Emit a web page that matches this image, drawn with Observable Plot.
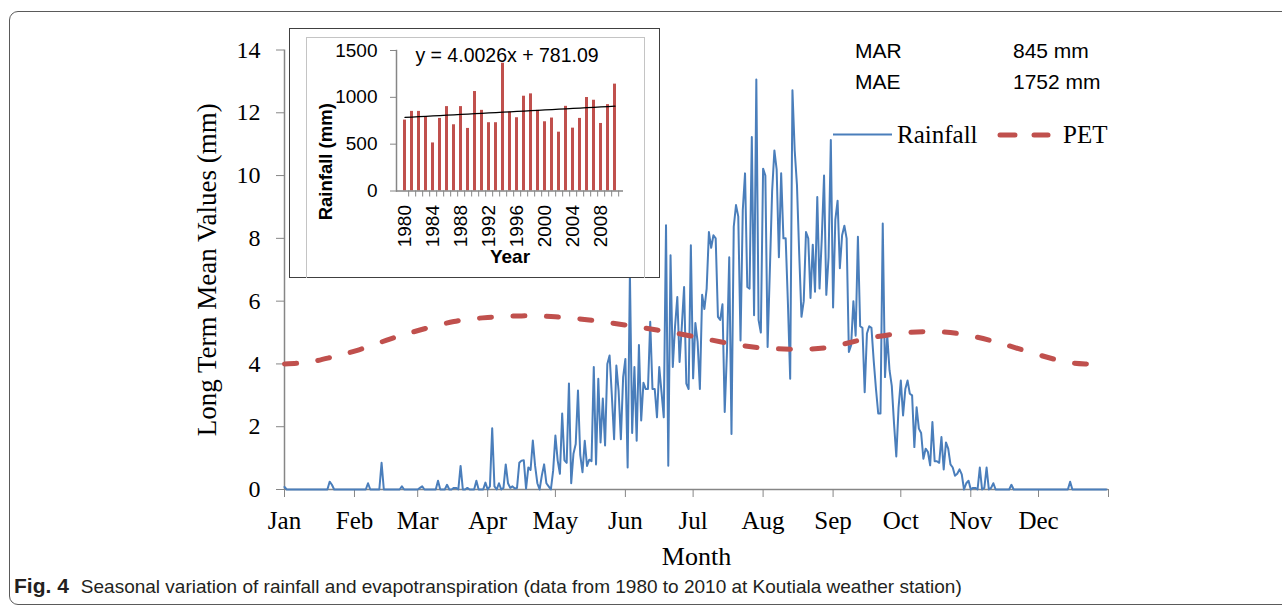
<!DOCTYPE html>
<html><head><meta charset="utf-8">
<script src="https://cdn.jsdelivr.net/npm/d3@7"></script>
<script src="https://cdn.jsdelivr.net/npm/@observablehq/plot@0.6"></script>
<style>
html,body{margin:0;padding:0;background:#fff;width:1282px;height:607px;overflow:hidden;}
#frame{position:absolute;left:9px;top:11px;width:1300px;height:592px;border:1px solid #5a5a5a;border-radius:9px;}
#main{position:absolute;left:0;top:0;}
#inset{position:absolute;left:289px;top:28px;width:369px;height:248px;border:1.5px solid #404040;background:#fff;}
#insetInner{position:absolute;left:15.5px;top:7.5px;width:337px;height:240px;border:1px solid #c4c4c4;border-bottom:none;}
#insetPlot{position:absolute;left:0;top:0;}
#overlay{position:absolute;left:0;top:0;}
#caption{position:absolute;left:14px;top:574px;font:19px 'Liberation Sans',Arial,sans-serif;color:#231f20;white-space:nowrap;}
#caption b{font-weight:bold;margin-right:12px;font-size:21px;}
</style></head><body>
<div id="frame"></div>
<div id="main"></div>
<div id="inset"><div id="insetInner"></div><div id="insetPlot"></div></div>
<svg id="overlay" width="1282" height="570"></svg>
<div id="caption"></div>
<script>
// ---------- main chart data: daily long-term mean rainfall (mm), by month ----------
const monthNames = ["Jan","Feb","Mar","Apr","May","Jun","Jul","Aug","Sep","Oct","Nov","Dec"];
const monthStarts = [0,31,59,90,120,151,181,212,243,273,304,334,365];
const yTicks = [0,2,4,6,8,10,12,14];

const rainJan = [0.08,0,0,0,0,0,0,0,0,0,0,0,0,0,0,0,0,0,0,0,0.25,0.15,0,0,0,0,0,0,0,0,0];
const rainFeb = [0,0,0,0,0,0,0.2,0,0,0,0,0,0.85,0,0,0,0,0,0,0,0,0.1,0,0,0,0,0,0];
const rainMar = [0,0.05,0.1,0,0,0,0,0,0,0.28,0,0,0,0.15,0,0,0.05,0.05,0,0.75,0,0,0.05,0,0,0,0.28,0,0,0,0.22];
const rainApr = [0,0.1,1.95,0.1,0,0.2,0,0.05,0.8,0.2,0.05,0.1,0.03,0.05,0.85,0.92,0.93,0.03,0.7,0.62,1.56,0.76,0.2,0,0.45,0.8,0.2,0.1,0,0.6];
const rainMay = [1.72,0.93,0.5,2.42,0.93,0.85,3.38,0.2,1.14,1.45,3.15,1.1,0.55,1.55,0.75,0.95,0.9,3.9,0.8,3.53,1.5,2.9,1.4,4.0,4.27,3.0,1.6,3.95,3.14,1.6,3.58];
const rainJun = [4.16,0.7,6.9,1.8,3.9,1.55,4.6,2.2,3.4,3.2,3.2,5.34,3.2,3.2,2.3,3.9,3.1,2.3,8.42,0.76,7.46,3.9,5.2,6.13,4.06,5.2,6.45,3.37,3.2,7.78];
const rainJul = [3.54,5.3,4.7,3.2,6.2,5.75,6.4,8.2,7.7,8.1,8.0,5.5,5.4,5.9,2.47,4.4,7.4,1.77,8.37,9.06,8.7,4.75,8.9,10.07,6.45,6.4,11.23,5.55,13.06,5.4,5.0];
const rainAug = [10.22,10.0,4.54,7.0,9.5,10.8,10.2,7.4,10.07,8.0,8.0,5.92,3.53,12.72,10.8,9.7,7.5,5.5,6.0,8.2,8.0,6.1,7.8,6.3,9.32,6.4,8.0,10.0,6.2,7.4,11.13];
const rainSep = [5.8,8.6,9.2,7.05,8.1,8.4,8.0,4.38,4.6,6.0,4.9,8.05,5.2,5.15,3.1,4.97,5.2,5.15,4.1,3.2,2.42,2.42,8.47,3.58,4.9,3.8,3.3,2.1,1.05,2.6];
const rainOct = [3.47,2.36,3.2,3.47,3.05,3.0,1.35,2.62,1.94,1.8,0.98,1.3,1.2,0.77,2.15,0.9,0.9,0.85,1.67,0.64,1.5,1.3,0.8,0.7,0.44,0.5,0.64,0.48,0,0.2,0.28];
const rainNov = [0,0.05,0.05,0,0.7,0,0.05,0.7,0,0.05,0.2,0,0,0,0,0,0,0,0.15,0,0,0,0,0,0,0,0,0,0,0];
const rainDec = [0,0,0,0,0,0,0,0,0,0,0,0,0,0,0.25,0,0,0,0,0,0,0,0,0,0,0,0,0,0,0,0];

// PET (mm/day) read at selected days of the year
const petDays   = [0,10,20,33,47,60,75,90,105,120,135,150,165,180,195,210,225,240,255,270,285,300,315,330,345,355,364];
const petValues = [4.0,4.05,4.2,4.45,4.8,5.08,5.35,5.48,5.53,5.5,5.4,5.25,5.08,4.89,4.68,4.52,4.47,4.52,4.76,4.95,5.03,4.95,4.7,4.38,4.08,4.0,3.97];

// ---------- inset data: annual rainfall 1980-2010 ----------
const years = d3.range(1980, 2011);
const annualRain = [757,850,850,793,513,775,901,707,901,668,1062,861,729,729,1364,843,782,1012,1037,861,739,779,628,904,671,775,998,969,721,922,1141];
const trendSlope = 4.0026, trendIntercept = 781.09;
const yearLabels = [1980,1984,1988,1992,1996,2000,2004,2008];
const insetYTicks = [0,500,1000,1500];

// ---------- annotation text ----------
const statsLabels = ["MAR","MAE"];
const statsValues = ["845 mm","1752 mm"];

// ---------- build main chart ----------
const rainfall = [...rainJan,...rainFeb,...rainMar,...rainApr,...rainMay,...rainJun,...rainJul,...rainAug,...rainSep,...rainOct,...rainNov,...rainDec];
const rainData = rainfall.map((v,i)=>({day:i, v}));
const petData = petDays.map((d,i)=>({day:d, v:petValues[i]}));
const serif = "'Liberation Serif','Times New Roman',serif";
const sans = "'Liberation Sans',Arial,sans-serif";
const axisGray = "#868686";

const main = Plot.plot({
  width:1282, height:570,
  marginLeft:284, marginRight:174, marginTop:49.5, marginBottom:81,
  x:{domain:[0,365]},
  y:{domain:[0,14]},
  style:{fontFamily:serif, fontSize:"24px", color:"#000", background:"transparent", overflow:"visible"},
  marks:[
    Plot.ruleX([0],{stroke:axisGray, strokeWidth:1.5}),
    Plot.ruleY([0],{stroke:axisGray, strokeWidth:1.5}),
    Plot.axisY(yTicks,{tickSize:8, tickPadding:16, stroke:axisGray, fontSize:24, label:null}),
    Plot.axisX(monthStarts,{tickSize:8, tickPadding:14, stroke:axisGray, fontSize:25, label:null,
      tickFormat:d=>monthNames[monthStarts.indexOf(d)] ?? ""}),
    Plot.line(rainData,{x:"day", y:"v", stroke:"#4A7EBB", strokeWidth:2}),
    Plot.line(petData,{x:"day", y:"v", curve:"natural", stroke:"#C0504D", strokeWidth:5,
      strokeDasharray:"12 21.5", strokeLinecap:"round"}),
    Plot.text(["Month"],{frameAnchor:"bottom", lineAnchor:"middle", dy:67, fontSize:26}),
    Plot.text(["Long Term Mean Values (mm)"],{frameAnchor:"left", textAnchor:"middle", lineAnchor:"middle",
      rotate:-90, dx:-77, fontSize:27})
  ]
});
document.getElementById("main").append(main);

// ---------- inset ----------
const bars = years.map((y,i)=>({year:y, v:annualRain[i]}));
const trend = years.map((y,i)=>({year:y, v:trendSlope*(i+1)+trendIntercept}));
const insetW = 369, insetH = 248, iml = 106, imr = 36;
const step = (insetW - iml - imr)/years.length;
const inset = Plot.plot({
  width:insetW, height:insetH,
  marginLeft:iml, marginRight:imr, marginTop:21, marginBottom:86.5,
  x:{type:"band", domain:years, paddingInner:0.6, paddingOuter:0.3},
  y:{domain:[0,1500]},
  style:{fontFamily:sans, fontSize:"19px", color:"#000", background:"transparent", overflow:"visible"},
  marks:[
    Plot.barY(bars,{x:"year", y:"v", fill:"#C0504D"}),
    Plot.ruleY([0],{stroke:axisGray, strokeWidth:1.5}),
    Plot.frame({anchor:"left", stroke:axisGray, strokeWidth:1.5}),
    Plot.axisY(insetYTicks,{tickSize:6, tickPadding:13, stroke:axisGray, fontSize:19, label:null, tickFormat:d=>String(d)}),
    Plot.axisX(years,{tickSize:6, dx:step/2, stroke:axisGray, tickFormat:()=>"", label:null}),
    Plot.axisX(yearLabels,{tickSize:0, tickRotate:-90, tickPadding:14, fontSize:19, label:null, tickFormat:d=>String(d)}),
    Plot.line(trend,{x:"year", y:"v", stroke:"#000", strokeWidth:1.3}),
    Plot.text(["y = 4.0026x + 781.09"],{frameAnchor:"top", lineAnchor:"middle", dx:-3, dy:5, fontSize:19.5}),
    Plot.text(["Rainfall (mm)"],{frameAnchor:"left", textAnchor:"middle", lineAnchor:"middle",
      rotate:-90, dx:-70, dy:41, fontSize:18.5, fontWeight:"bold"}),
    Plot.text(["Year"],{frameAnchor:"bottom", lineAnchor:"middle", dy:66, fontSize:19, fontWeight:"bold"})
  ]
});
document.getElementById("insetPlot").append(inset);

// ---------- legend & annotations overlay ----------
const ov = d3.select("#overlay");
ov.append("line").attr("x1",833).attr("x2",892).attr("y1",134.5).attr("y2",134.5)
  .attr("stroke","#4A7EBB").attr("stroke-width",2);
ov.append("text").attr("x",897).attr("y",143).attr("font-family",serif).attr("font-size",25).text("Rainfall");
[[1000,1015],[1034,1048]].forEach(([a,b])=>ov.append("line").attr("x1",a).attr("x2",b).attr("y1",135).attr("y2",135)
  .attr("stroke","#C0504D").attr("stroke-width",5).attr("stroke-linecap","round"));
ov.append("text").attr("x",1063).attr("y",143).attr("font-family",serif).attr("font-size",25).text("PET");
statsLabels.forEach((s,i)=>{
  ov.append("text").attr("x",855).attr("y",58+i*30.5).attr("font-family",sans).attr("font-size",21).text(s);
  ov.append("text").attr("x",1013).attr("y",58+i*30.5).attr("font-family",sans).attr("font-size",21).text(statsValues[i]);
});

// ---------- caption ----------
document.getElementById("caption").innerHTML =
  "<b>Fig. 4</b>Seasonal variation of rainfall and evapotranspiration (data from 1980 to 2010 at Koutiala weather station)";
</script>
</body></html>
